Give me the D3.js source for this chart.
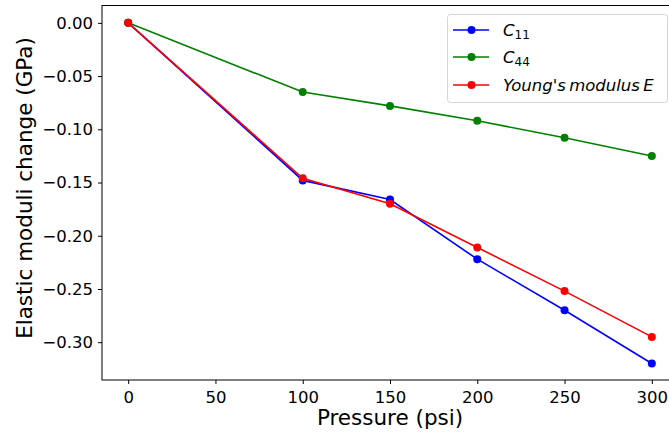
<!doctype html>
<html>
<head>
<meta charset="utf-8">
<style>
  body { margin: 0; background: white; }
  svg { display: block; font-family: "DejaVu Sans", sans-serif; }
</style>
<script src="https://d3js.org/d3.v7.min.js"></script>
</head>
<body>
<script>

  // pressure steps (psi)
  var pressure = [0, 100, 150, 200, 250, 300];
  var c11 = [0, -0.148, -0.166, -0.222, -0.270, -0.320];
  var c44 = [0, -0.065, -0.078, -0.092, -0.108, -0.125];
  var youngE = [0, -0.146, -0.170, -0.211, -0.252, -0.295];
  var xTicks = [0, 50, 100, 150, 200, 250, 300];
  var yTicks = [0, -0.05, -0.10, -0.15, -0.20, -0.25, -0.30];

  var series = [
    { name: "c11", color: "#0000ff", values: c11 },
    { name: "c44", color: "#008000", values: c44 },
    { name: "E", color: "#ff0000", values: youngE }
  ];

  var svg_width = 669, svg_height = 433;
  var pLeft = 102, pTop = 5.5, pRight = 678, pBottom = 380;

  var svg = d3.select("body").append("svg")
    .attr("width", svg_width)
    .attr("height", svg_height);

  var x = d3.scaleLinear().domain([-15, 315]).range([pLeft, pRight]);
  var y = d3.scaleLinear().domain([-0.3355, 0.0163]).range([pBottom, pTop]);

  // axes
  var xAxis = svg.append("g")
    .attr("transform", "translate(0," + pBottom + ")")
    .call(d3.axisBottom(x).tickValues(xTicks).tickSize(4).tickPadding(4)
      .tickFormat(d3.format("d")));
  var yAxis = svg.append("g")
    .attr("transform", "translate(" + pLeft + ",0)")
    .call(d3.axisLeft(y).tickValues(yTicks).tickSize(4).tickPadding(5)
      .tickFormat(d3.format(".2f")));

  [xAxis, yAxis].forEach(function(a) {
    a.select(".domain").remove();
    a.selectAll("line").attr("stroke", "#000").attr("stroke-width", 1);
    a.selectAll("text").attr("font-size", 16.5).attr("fill", "#000")
      .attr("font-family", "DejaVu Sans");
  });
  xAxis.selectAll("text").attr("dy", "0.9em");

  // spines (right one falls off the canvas)
  svg.append("rect")
    .attr("x", pLeft).attr("y", pTop)
    .attr("width", pRight - pLeft).attr("height", pBottom - pTop)
    .attr("fill", "none").attr("stroke", "#000").attr("stroke-width", 1);

  var line = d3.line()
    .x(function(d, i) { return x(pressure[i]); })
    .y(function(d) { return y(d); });

  series.forEach(function(s) {
    svg.append("path")
      .datum(s.values)
      .attr("d", line)
      .attr("fill", "none")
      .attr("stroke", s.color)
      .attr("stroke-width", 1.6);
    svg.selectAll(".pt-" + s.name)
      .data(s.values)
      .enter().append("circle")
      .attr("cx", function(d, i) { return x(pressure[i]); })
      .attr("cy", function(d) { return y(d); })
      .attr("r", 4)
      .attr("fill", s.color);
  });

  // axis labels
  svg.append("text")
    .attr("x", (pLeft + pRight) / 2)
    .attr("y", 425)
    .attr("text-anchor", "middle")
    .attr("font-size", 21.5)
    .text("Pressure (psi)");

  svg.append("text")
    .attr("transform", "translate(32,188) rotate(-90)")
    .attr("text-anchor", "middle")
    .attr("font-size", 21.5)
    .text("Elastic moduli change (GPa)");

  // legend
  var lg = svg.append("g");
  lg.append("rect")
    .attr("x", 447.5).attr("y", 14.5)
    .attr("width", 220).attr("height", 88)
    .attr("rx", 3)
    .attr("fill", "white").attr("fill-opacity", 0.8)
    .attr("stroke", "#d6d6d6").attr("stroke-width", 1);

  var rows = [30, 57, 85];
  series.forEach(function(s, i) {
    var g = lg.append("g").attr("transform", "translate(0," + rows[i] + ")");
    g.append("line").attr("x1", 453).attr("x2", 489)
      .attr("stroke", s.color).attr("stroke-width", 1.6);
    g.append("circle").attr("cx", 471.5).attr("r", 4).attr("fill", s.color);
    var t = g.append("text").attr("x", 503).attr("y", 6)
      .attr("font-size", 16.5).attr("font-style", "italic");
    if (s.name === "E") {
      t.text("Young's\u2009modulus\u2009E");
    } else {
      t.append("tspan").text("C");
      t.append("tspan").attr("font-style", "normal").attr("font-size", 12)
        .attr("dy", 3).text(s.name.slice(1));
    }
  });

</script>
</body>
</html>
